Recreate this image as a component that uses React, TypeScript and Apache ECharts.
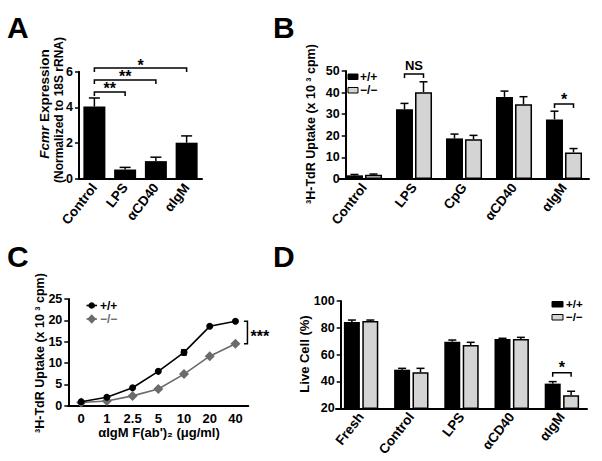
import React, { useEffect, useRef } from 'react';
import * as echarts from 'echarts';

const FONT = '"Liberation Sans", Arial, Helvetica, sans-serif';
const GRAY_BAR = '#d4d4d4';
const GRAY_LINE = '#6b6b6b';

// ---------- Panel A ----------
const catsA = ['Control', 'LPS', 'αCD40', 'αIgM'];
const fcmrA = [4.05, 0.53, 1.0, 2.03];
const fcmrErrA = [0.48, 0.12, 0.22, 0.38];
const sigFromA = [0, 0, 0];
const sigToA = [1, 2, 3];
const sigYA = [4.87, 5.54, 6.2];
const sigLabelA = ['**', '**', '*'];

// ---------- Panel B ----------
const catsB = ['Control', 'LPS', 'CpG', 'αCD40', 'αIgM'];
const uptakeWTB = [1.7, 32.3, 18.8, 38.0, 27.6];
const uptakeWTErrB = [0.4, 2.7, 2.0, 2.7, 3.8];
const uptakeKOB = [2.0, 40.2, 18.4, 34.6, 12.3];
const uptakeKOErrB = [0.3, 4.8, 1.8, 3.5, 1.8];
const sigCatB = [1, 4];
const sigYB = [48.6, 34.7];
const sigLabelB = ['NS', '*'];

// ---------- Panel C ----------
const dosesC = ['0', '1', '2.5', '5', '10', '20', '40'];
const uptakeWTC = [0.94, 2.0, 4.2, 8.05, 12.5, 18.6, 19.8];
const uptakeWTErrC = [0, 0, 0, 0, 0.6, 0, 0];
const uptakeKOC = [0.75, 1.1, 2.3, 3.9, 7.4, 11.6, 14.5];

// ---------- Panel D ----------
const catsD = ['Fresh', 'Control', 'LPS', 'αCD40', 'αIgM'];
const liveWTD = [84.3, 48.8, 69.7, 71.7, 38.4];
const liveWTErrD = [1.5, 1.0, 1.2, 0.5, 1.5];
const liveKOD = [85.1, 46.8, 67.2, 71.7, 29.7];
const liveKOErrD = [0.7, 3.0, 2.0, 1.2, 3.0];
const sigCatD = [4];
const sigYD = [46.5];
const sigLabelD = ['*'];

const WT = '+/+';
const KO = '−/−';

const xAxisBase = (gridIndex: number, data: string[], rotate: number, size: number) => ({
  type: 'category',
  gridIndex,
  data,
  axisLine: { show: true, onZero: false, lineStyle: { color: '#000', width: 2 } },
  axisTick: { show: false },
  axisLabel: { interval: 0, rotate, color: '#000', fontWeight: 'bold', fontSize: size, fontFamily: FONT, margin: 6 },
  splitLine: { show: false },
});

const yAxisBase = (gridIndex: number, min: number, max: number, interval: number, offset: number) => ({
  type: 'value',
  gridIndex,
  min,
  max,
  interval,
  offset,
  axisLine: { show: true, onZero: false, lineStyle: { color: '#000', width: 2 } },
  axisTick: { show: true, length: 4, lineStyle: { color: '#000', width: 1.5 } },
  axisLabel: { color: '#000', fontWeight: 'bold', fontSize: 12.5, fontFamily: FONT, margin: 6 },
  splitLine: { show: false },
});

function errorBars(g: number, vals: number[], errs: number[], offset: number, capHalf: number, color: string, both: boolean) {
  return {
    type: 'custom',
    xAxisIndex: g,
    yAxisIndex: g,
    clip: false,
    silent: true,
    z: 5,
    data: vals.map((v, i) => [i, v, errs[i]]),
    encode: { x: 0, y: 1 },
    renderItem: (_p: any, api: any) => {
      const i = api.value(0);
      const v = api.value(1);
      const e = api.value(2);
      if (!e) return { type: 'group', children: [] };
      const top = api.coord([i, v + e]);
      const bot = api.coord([i, both ? v - e : v]);
      const x = top[0] + offset;
      const st = { stroke: color, lineWidth: 1.5 };
      const children: any[] = [
        { type: 'line', shape: { x1: x, y1: bot[1], x2: x, y2: top[1] }, style: st },
        { type: 'line', shape: { x1: x - capHalf, y1: top[1], x2: x + capHalf, y2: top[1] }, style: st },
      ];
      if (both) children.push({ type: 'line', shape: { x1: x - capHalf, y1: bot[1], x2: x + capHalf, y2: bot[1] }, style: st });
      return { type: 'group', children };
    },
  };
}

function brackets(g: number, from: number[], to: number[], ys: number[], labels: string[], offFrom: number, offTo: number, starLift: number) {
  return {
    type: 'custom',
    xAxisIndex: g,
    yAxisIndex: g,
    clip: false,
    silent: true,
    z: 6,
    data: from.map((f, i) => [f, to[i], ys[i], i]),
    encode: { x: [0, 1], y: 2 },
    renderItem: (_p: any, api: any) => {
      const k = api.value(3);
      const a = api.coord([api.value(0), api.value(2)]);
      const b = api.coord([api.value(1), api.value(2)]);
      const x1 = a[0] + offFrom;
      const x2 = b[0] + offTo;
      const y = a[1];
      const lab = labels[k];
      const isStar = lab.indexOf('*') >= 0;
      return {
        type: 'group',
        children: [
          { type: 'polyline', shape: { points: [[x1, y + 4], [x1, y], [x2, y], [x2, y + 4]] }, style: { stroke: '#000', lineWidth: 1.5, fill: null } },
          {
            type: 'text',
            x: (x1 + x2) / 2,
            y: isStar ? y - starLift : y - 8.5,
            style: {
              text: lab,
              fill: '#000',
              fontFamily: FONT,
              fontWeight: 'bold',
              fontSize: isStar ? 16 : 13,
              align: 'center',
              verticalAlign: 'middle',
              textAlign: 'center',
              textVerticalAlign: 'middle',
            },
          },
        ],
      };
    },
  };
}

function sideBracket(g: number, cat: number, yHi: number, yLo: number, label: string) {
  return {
    type: 'custom',
    xAxisIndex: g,
    yAxisIndex: g,
    clip: false,
    silent: true,
    z: 6,
    data: [[cat, yHi, yLo]],
    encode: { x: 0, y: [1, 2] },
    renderItem: (_p: any, api: any) => {
      const a = api.coord([api.value(0), api.value(1)]);
      const b = api.coord([api.value(0), api.value(2)]);
      const x = a[0] + 12;
      return {
        type: 'group',
        children: [
          { type: 'polyline', shape: { points: [[x - 3.5, a[1]], [x, a[1]], [x, b[1]], [x - 3.5, b[1]]] }, style: { stroke: '#000', lineWidth: 1.5, fill: null } },
          {
            type: 'text',
            x: x + 3,
            y: (a[1] + b[1]) / 2 + 4,
            style: {
              text: label,
              fill: '#000',
              fontFamily: FONT,
              fontWeight: 'bold',
              fontSize: 16,
              align: 'left',
              verticalAlign: 'middle',
              textAlign: 'left',
              textVerticalAlign: 'middle',
            },
          },
        ],
      };
    },
  };
}

const txt = (x: number, y: number, text: string, size: number, opts: any = {}) => ({
  type: 'text',
  x,
  y,
  rotation: opts.rotation || 0,
  silent: true,
  style: {
    text,
    fill: opts.fill || '#000',
    fontFamily: FONT,
    fontWeight: 'bold',
    fontSize: size,
    align: opts.align || 'left',
    verticalAlign: 'middle',
    textAlign: opts.align || 'left',
    textVerticalAlign: 'middle',
    rich: opts.rich,
  },
});

const rect = (x: number, y: number, w: number, h: number, fill: string) => ({
  type: 'rect',
  silent: true,
  shape: { x, y, width: w, height: h },
  style: { fill, stroke: '#000', lineWidth: 1 },
});

const option: any = {
  animation: false,
  backgroundColor: '#fff',
  grid: [
    { left: 79, top: 71.7, width: 123, height: 107.3, containLabel: false, outerBoundsMode: 'none' },
    { left: 339, top: 71, width: 250, height: 108, containLabel: false, outerBoundsMode: 'none' },
    { left: 68.3, top: 299, width: 180, height: 106.7, containLabel: false, outerBoundsMode: 'none' },
    { left: 336, top: 301, width: 251, height: 107.3, containLabel: false, outerBoundsMode: 'none' },
  ],
  xAxis: [
    xAxisBase(0, catsA, 52, 13.5),
    xAxisBase(1, catsB, 52, 13.5),
    xAxisBase(2, dosesC, 0, 13),
    xAxisBase(3, catsD, 52, 13.5),
  ],
  yAxis: [
    yAxisBase(0, 0, 6, 2, 0),
    yAxisBase(1, 0, 50, 10, -6.7),
    yAxisBase(2, 0, 25, 5, 0),
    yAxisBase(3, 20, 100, 20, -4.7),
  ],
  series: [
    // Panel A
    { type: 'bar', name: 'Fcmr', xAxisIndex: 0, yAxisIndex: 0, data: fcmrA, barWidth: 22, itemStyle: { color: '#000' } },
    errorBars(0, fcmrA, fcmrErrA, 0, 5.5, '#000', false),
    brackets(0, sigFromA, sigToA, sigYA, sigLabelA, 0, 0, 3),
    // Panel B
    { type: 'bar', name: WT, xAxisIndex: 1, yAxisIndex: 1, data: uptakeWTB, barWidth: 17, barGap: '12%', itemStyle: { color: '#000' } },
    { type: 'bar', name: KO, xAxisIndex: 1, yAxisIndex: 1, data: uptakeKOB, barWidth: 17, barGap: '12%', itemStyle: { color: GRAY_BAR, borderColor: '#000', borderWidth: 1.5 } },
    errorBars(1, uptakeWTB, uptakeWTErrB, -9.5, 4, '#000', false),
    errorBars(1, uptakeKOB, uptakeKOErrB, 9.5, 4, '#000', false),
    brackets(1, sigCatB, sigCatB, sigYB, sigLabelB, -9.5, 9.5, 5),
    // Panel C
    errorBars(2, uptakeWTC, uptakeWTErrC, 0, 3, '#000', true),
    { type: 'line', name: WT, xAxisIndex: 2, yAxisIndex: 2, data: uptakeWTC, symbol: 'circle', symbolSize: 7, lineStyle: { color: '#000', width: 1.6 }, itemStyle: { color: '#000' }, z: 4 },
    { type: 'line', name: KO, xAxisIndex: 2, yAxisIndex: 2, data: uptakeKOC, symbol: 'diamond', symbolSize: 10, lineStyle: { color: GRAY_LINE, width: 1.6 }, itemStyle: { color: GRAY_LINE }, z: 3 },
    sideBracket(2, dosesC.length - 1, uptakeWTC[uptakeWTC.length - 1], uptakeKOC[uptakeKOC.length - 1], '***'),
    // Panel D
    { type: 'bar', name: WT, xAxisIndex: 3, yAxisIndex: 3, data: liveWTD, barWidth: 16, barGap: '15%', itemStyle: { color: '#000' } },
    { type: 'bar', name: KO, xAxisIndex: 3, yAxisIndex: 3, data: liveKOD, barWidth: 16, barGap: '15%', itemStyle: { color: GRAY_BAR, borderColor: '#000', borderWidth: 1.5 } },
    errorBars(3, liveWTD, liveWTErrD, -9.2, 4, '#000', false),
    errorBars(3, liveKOD, liveKOErrD, 9.2, 4, '#000', false),
    brackets(3, sigCatD, sigCatD, sigYD, sigLabelD, -9.2, 9.2, 5),
  ],
  graphic: [
    // panel letters
    txt(7, 27, 'A', 30),
    txt(273, 27, 'B', 30),
    txt(7, 256, 'C', 30),
    txt(273, 256, 'D', 30),
    // Axis titles
    txt(44, 104, '{i|Fcmr} Expression', 13.5, {
      rotation: Math.PI / 2,
      align: 'center',
      rich: { i: { fontStyle: 'italic', fontWeight: 'bold', fontSize: 13.5, fontFamily: FONT } },
    }),
    txt(59, 110, '(Normalized to 18S rRNA)', 12, { rotation: Math.PI / 2, align: 'center' }),
    txt(311, 124, '³H-TdR Uptake (x 10 ³ cpm)', 12.5, { rotation: Math.PI / 2, align: 'center' }),
    txt(40, 353, '³H-TdR Uptake (x 10 ³ cpm)', 12.5, { rotation: Math.PI / 2, align: 'center' }),
    txt(304, 354, 'Live Cell (%)', 13, { rotation: Math.PI / 2, align: 'center' }),
    txt(159, 432.5, 'αIgM F(ab\')₂ (μg/ml)', 13, { align: 'center' }),
    // Legend B
    rect(348, 74, 10, 5.5, '#000'),
    txt(360, 76.7, WT, 12),
    rect(348, 87.5, 10, 5.5, GRAY_BAR),
    txt(360, 90.2, KO, 12),
    // Legend D
    rect(552, 301.5, 11, 5.5, '#000'),
    txt(566, 304.2, WT, 11.5),
    rect(552, 314.5, 11, 5.5, GRAY_BAR),
    txt(566, 317.2, KO, 11.5),
    // Legend C
    { type: 'line', silent: true, shape: { x1: 86.5, y1: 305.5, x2: 97, y2: 305.5 }, style: { stroke: '#000', lineWidth: 1.6 } },
    { type: 'circle', silent: true, shape: { cx: 91.7, cy: 305.5, r: 3.3 }, style: { fill: '#000' } },
    txt(100, 305.5, WT, 12),
    { type: 'line', silent: true, shape: { x1: 86.5, y1: 319, x2: 97, y2: 319 }, style: { stroke: GRAY_LINE, lineWidth: 1.6 } },
    { type: 'polygon', silent: true, shape: { points: [[91.7, 314.3], [96.2, 319], [91.7, 323.7], [87.2, 319]] }, style: { fill: GRAY_LINE } },
    txt(100, 319, KO, 12, { fill: GRAY_LINE }),
  ],
};

export default function App() {
  const ref = useRef<HTMLDivElement>(null);
  useEffect(() => {
    const chart = echarts.init(ref.current as HTMLDivElement, null, { renderer: 'svg' });
    chart.setOption(option);
    return () => chart.dispose();
  }, []);
  return (
    <div
      ref={ref}
      style={{ position: 'fixed', left: 0, top: 0, width: 602, height: 461, background: '#fff' }}
    />
  );
}
